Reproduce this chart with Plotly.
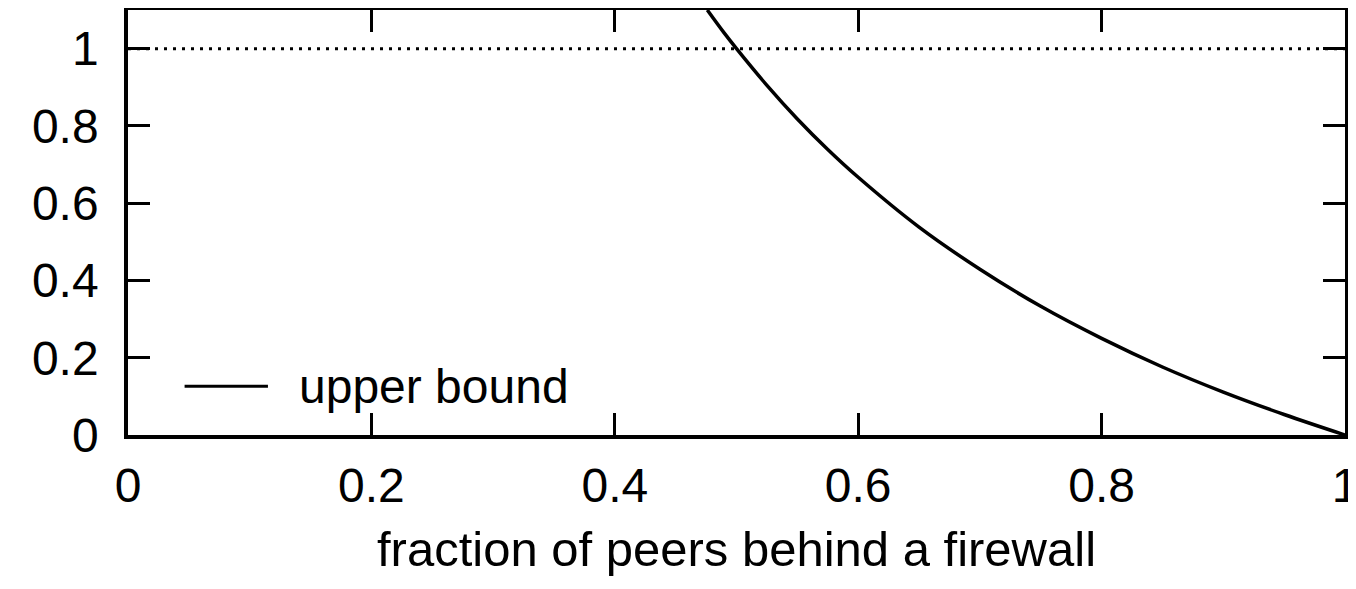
import plotly.graph_objects as go

# values
frac_x = [0.476, 0.49, 0.5, 0.525, 0.55, 0.575, 0.6, 0.65, 0.7, 0.75, 0.8, 0.85, 0.9, 0.95, 1.0]
bound_y = [1.10, 1.04, 1.0, 0.905, 0.818, 0.739, 0.667, 0.538, 0.429, 0.333, 0.25, 0.176, 0.111, 0.053, 0.0]
ref_x = [0.0, 1.0]
ref_y = [1.0, 1.0]
x_ticks = [0, 0.2, 0.4, 0.6, 0.8, 1]
x_labels = ["0", "0.2", "0.4", "0.6", "0.8", "1"]
y_ticks = [0, 0.2, 0.4, 0.6, 0.8, 1]
y_labels = ["0", "0.2", "0.4", "0.6", "0.8", "1"]
series_name = "upper bound"

FONT = "Liberation Sans"
FS = 48

fig = go.Figure()
fig.add_trace(go.Scatter(x=ref_x, y=ref_y, mode="lines",
                         line=dict(color="black", width=3, dash="3px,6px"),
                         showlegend=False, hoverinfo="skip"))
fig.add_trace(go.Scatter(x=frac_x, y=bound_y, mode="lines", name=series_name,
                         line=dict(color="black", width=3.5, shape="spline"),
                         showlegend=False))

axis_common = dict(showline=True, linecolor="black", linewidth=3.5, mirror="allticks",
                   ticks="inside", ticklen=22, tickwidth=3, tickcolor="black",
                   showgrid=False, zeroline=False, automargin=False,
                   tickfont=dict(family=FONT, size=FS, color="black"))

fig.update_xaxes(range=[0, 1], tickvals=x_ticks, ticktext=x_labels,
                 ticklabelstandoff=6,
                 title=dict(text="fraction of peers behind a firewall",
                            font=dict(family=FONT, size=FS + 1, color="black"), standoff=21),
                 **axis_common)
fig.update_yaxes(range=[0, 1.1], tickvals=y_ticks, ticktext=y_labels,
                 ticklabelstandoff=16, **axis_common)

# legend key drawn inside the plot, bottom-left (line sample + label)
fig.add_shape(type="line", xref="x domain", yref="y domain",
              x0=0.0465, x1=0.115, y0=0.115, y1=0.115,
              line=dict(color="black", width=3))
fig.add_annotation(xref="x domain", yref="y domain", x=0.1385, y=0.115,
                   xanchor="left", yanchor="middle", showarrow=False,
                   text=series_name, font=dict(family=FONT, size=FS, color="black"))

fig.update_layout(
    width=1356, height=589,
    margin=dict(l=120, r=19, t=2, b=162),
    paper_bgcolor="white", plot_bgcolor="white",
    font=dict(family=FONT, color="black"),
    showlegend=False,
)

fig.write_html("out.html")
